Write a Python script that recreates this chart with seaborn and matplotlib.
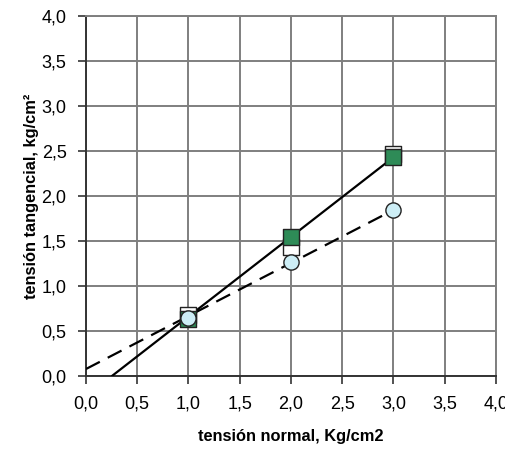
import matplotlib
matplotlib.use("Agg")
import matplotlib.pyplot as plt
from matplotlib.ticker import FuncFormatter, MultipleLocator
import numpy as np
import pandas as pd
import seaborn as sns

# Measured shear tests: normal stress vs. shear stress (kg/cm2)
normal_stress = [1.0, 2.0, 3.0]
peak_open = [0.68, 1.43, 2.47]
peak_green = [0.63, 1.54, 2.43]
residual = [0.65, 1.27, 1.84]

# Failure envelopes (intercept, slope) and their drawn x ranges
solid_fit = (-0.224, 0.885)
solid_range = [0.253, 3.0]
dashed_fit = (0.078, 0.589)
dashed_range = [0.0, 3.0]

sns.set_theme(style="white")
plt.rcParams["font.family"] = ["Liberation Sans", "DejaVu Sans"]
plt.rcParams["text.color"] = "black"
plt.rcParams["axes.labelcolor"] = "black"
plt.rcParams["xtick.color"] = "black"
plt.rcParams["ytick.color"] = "black"

fig = plt.figure(figsize=(5.06, 4.5), dpi=100)
ax = fig.add_axes([86 / 506, 1 - 376 / 450, (496 - 86) / 506, (376 - 16) / 450])

def envelope(fit, xr):
    xs = np.array(xr)
    return pd.DataFrame({"x": xs, "y": fit[0] + fit[1] * xs})

sns.lineplot(data=envelope(solid_fit, solid_range), x="x", y="y", ax=ax,
             color="black", linewidth=1.6, zorder=3)
sns.lineplot(data=envelope(dashed_fit, dashed_range), x="x", y="y", ax=ax,
             color="black", linewidth=1.6, zorder=3, dashes=False,
             linestyle=(0, (7, 4)))

msize = 120
sns.scatterplot(x=normal_stress, y=peak_open, ax=ax, marker="s", s=msize,
                color="white", edgecolor="#222222", linewidth=1.0, zorder=4)
sns.scatterplot(x=normal_stress, y=peak_green, ax=ax, marker="s", s=msize,
                color="#2e8b57", edgecolor="#222222", linewidth=1.0, zorder=5)
sns.scatterplot(x=normal_stress, y=residual, ax=ax, marker="o", s=msize,
                color="#cdeef6", edgecolor="#222222", linewidth=1.0, zorder=6)

ax.set_xlim(0, 4)
ax.set_ylim(0, 4)
ax.xaxis.set_major_locator(MultipleLocator(0.5))
ax.yaxis.set_major_locator(MultipleLocator(0.5))
comma = FuncFormatter(lambda v, p: f"{v:.1f}".replace(".", ","))
ax.xaxis.set_major_formatter(comma)
ax.yaxis.set_major_formatter(comma)

ax.grid(True, color="#7f7f7f", linewidth=1.4, zorder=0)
ax.set_axisbelow(True)
for side in ("top", "right"):
    ax.spines[side].set_color("#7f7f7f")
    ax.spines[side].set_linewidth(1.4)
for side in ("left", "bottom"):
    ax.spines[side].set_color("#333333")
    ax.spines[side].set_linewidth(1.4)

ax.tick_params(axis="y", which="major", direction="out", length=6, width=1.2,
               color="#333333", labelcolor="black", labelsize=13, pad=8, left=True)
ax.tick_params(axis="x", which="major", direction="out", length=6, width=1.2,
               color="#333333", labelcolor="black", labelsize=13, pad=8, bottom=True)

ax.set_xlabel("tensión normal, Kg/cm2", fontsize=11.8, fontweight="bold",
              color="black", labelpad=12)
ax.set_ylabel("tensión tangencial, kg/cm²", fontsize=11.8, fontweight="bold",
              color="black", labelpad=2)

fig.savefig("out.png", dpi=100)
